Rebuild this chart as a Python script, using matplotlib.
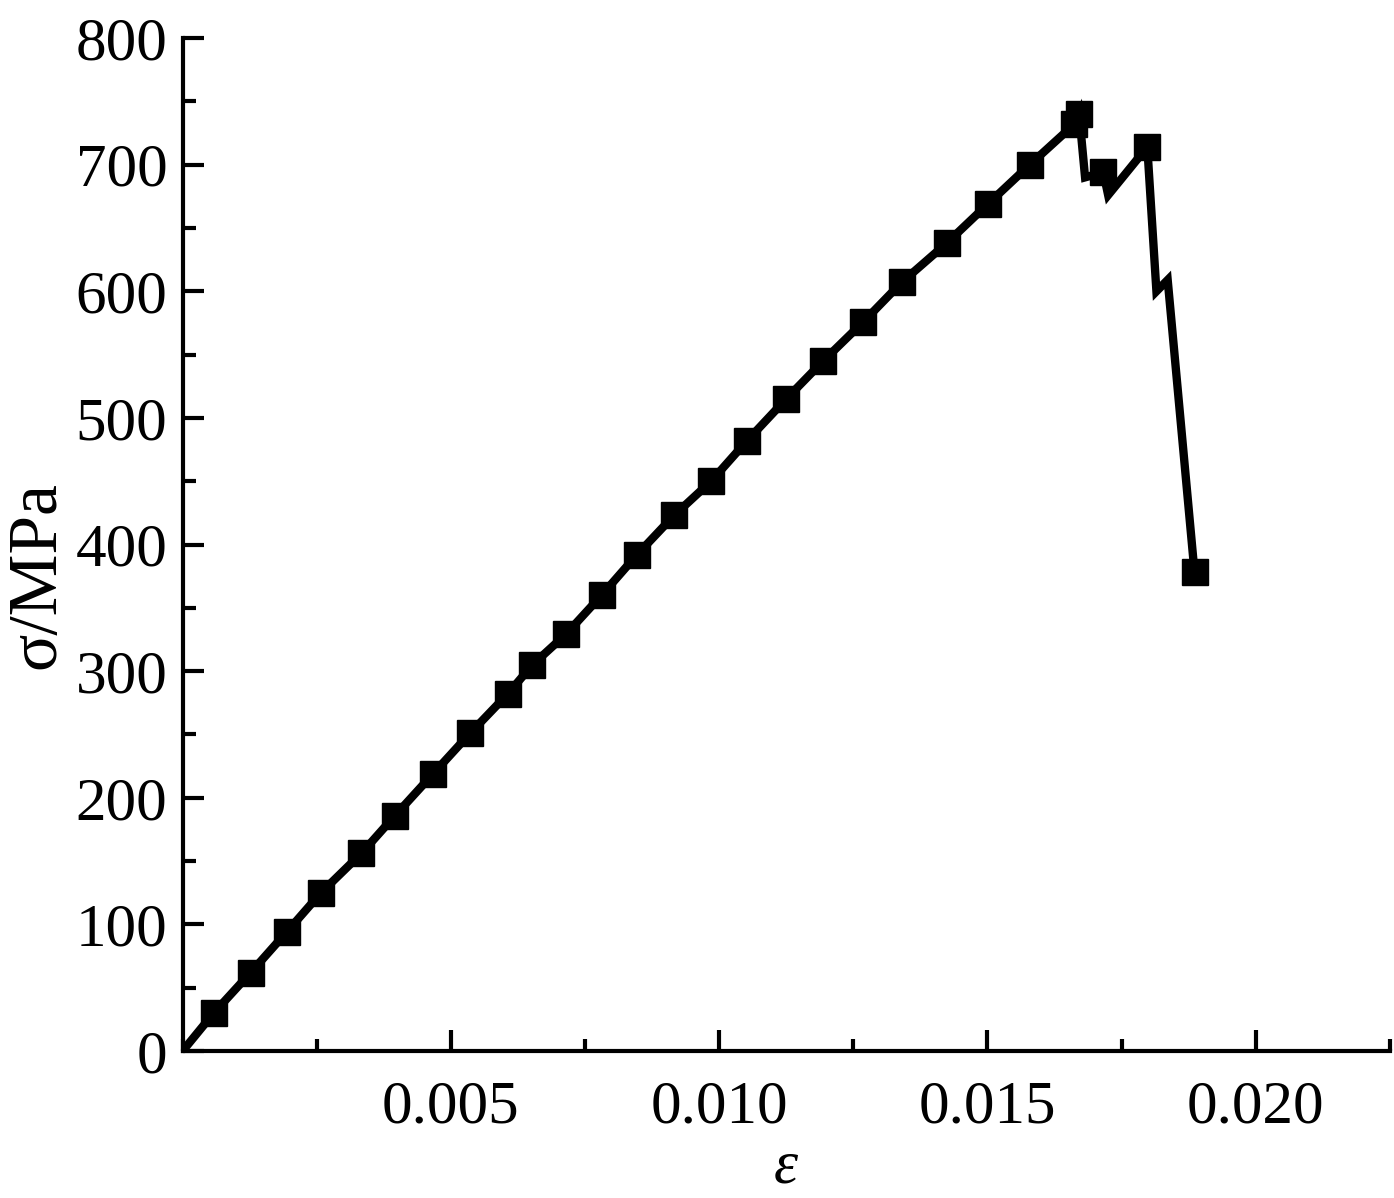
import matplotlib
matplotlib.use("Agg")
import matplotlib.pyplot as plt
from matplotlib.ticker import MultipleLocator

plt.rcParams['font.family'] = 'Liberation Serif'
plt.rcParams['mathtext.fontset'] = 'custom'
plt.rcParams['mathtext.rm'] = 'Liberation Serif'
plt.rcParams['mathtext.it'] = 'Liberation Serif:italic'

# strain / stress (points without marker are the kinks)
strain = [0.0, 0.00058, 0.00127, 0.00194, 0.00258, 0.00333, 0.00396, 0.00467,
          0.00536, 0.00606, 0.00652, 0.00714, 0.00781, 0.00847, 0.00916,
          0.00985, 0.01052, 0.01125, 0.01194, 0.01269, 0.01340, 0.01424,
          0.01501, 0.01579, 0.01662, 0.01671, 0.01682, 0.01716, 0.01725,
          0.01798, 0.01815, 0.01836, 0.01886]
stress = [0, 30, 62, 94, 125, 156, 186, 219, 251, 282, 305, 329, 360, 392,
          423, 450, 482, 515, 545, 576, 607, 638, 669, 700, 732, 740, 690,
          694, 676, 714, 600, 609, 378]
marked = [1, 2, 3, 4, 5, 6, 7, 8, 9, 10, 11, 12, 13, 14, 15, 16, 17, 18, 19,
          20, 21, 22, 23, 24, 25, 27, 29, 32]

fig = plt.figure(figsize=(13.94, 11.98), dpi=100)
ax = fig.add_axes([0.131, 0.1227, 0.866, 0.8455])

ax.plot(strain, stress, color='black', lw=6, marker='s', markersize=19,
        markevery=marked, solid_joinstyle='miter')

ax.set_xlim(0, 0.0225)
ax.set_ylim(0, 800)
ax.xaxis.set_major_locator(MultipleLocator(0.005))
ax.xaxis.set_minor_locator(MultipleLocator(0.0025))
ax.yaxis.set_major_locator(MultipleLocator(100))
ax.yaxis.set_minor_locator(MultipleLocator(50))
ax.set_xticks([0.005, 0.010, 0.015, 0.020])
ax.set_xticklabels(['0.005', '0.010', '0.015', '0.020'])

for s in ['top', 'right']:
    ax.spines[s].set_visible(False)
for s in ['left', 'bottom']:
    ax.spines[s].set_linewidth(3)

ax.tick_params(which='both', direction='in', width=3, labelsize=44)
ax.tick_params(which='major', length=15)
ax.tick_params(which='minor', length=9)
ax.tick_params(axis='y', pad=11)
ax.tick_params(axis='x', pad=21)

ax.set_xlabel(r'$\varepsilon$', fontsize=44)
ax.set_ylabel('σ/MPa', fontsize=50)
ax.xaxis.set_label_coords(0.5, -0.088)
ax.yaxis.set_label_coords(-0.094, 0.47)

fig.savefig('out.png', dpi=100)
